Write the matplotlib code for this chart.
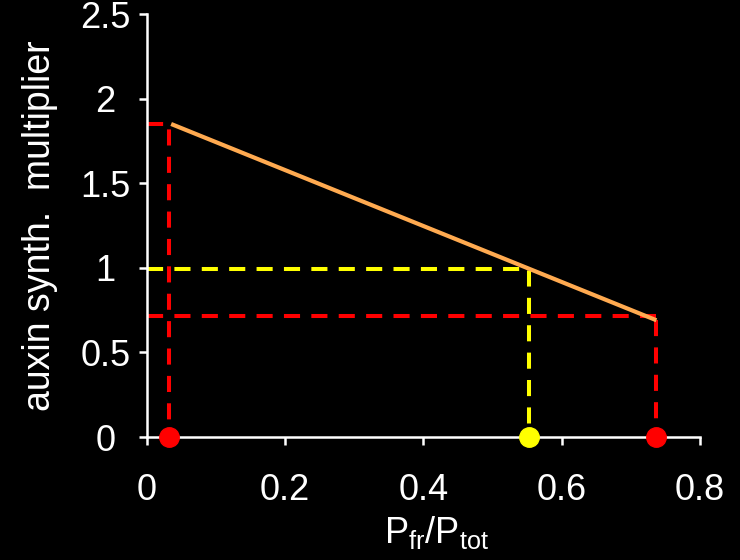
import matplotlib
matplotlib.use("Agg")
import matplotlib.pyplot as plt

plt.rcParams["font.family"] = ["Liberation Sans", "DejaVu Sans"]

# orange response line (Pfr/Ptot -> auxin synth. multiplier)
line_x = [0.035, 0.737]
line_y = [1.85, 0.69]

# dashed guide lines: (x path, y path)
red_low_x = [0.0, 0.032, 0.032]
red_low_y = [1.85, 1.85, 0.0]
red_high_x = [0.0, 0.737]
red_high_y = [0.715, 0.715]
red_high_drop_x = [0.737, 0.737]
red_high_drop_y = [0.69, 0.0]
yellow_x = [0.0, 0.553, 0.553]
yellow_y = [0.995, 0.995, 0.0]

# markers on the x-axis
red_pts_x = [0.032, 0.737]
yellow_pts_x = [0.553]

x_ticks = [0, 0.2, 0.4, 0.6, 0.8]
x_tick_labels = ["0", "0.2", "0.4", "0.6", "0.8"]
y_ticks = [0, 0.5, 1, 1.5, 2, 2.5]
y_tick_labels = ["0", "0.5", "1", "1.5", "2", "2.5"]

ORANGE = "#FFAA50"
RED = "#FF0000"
YELLOW = "#FFFF00"
DASH = (4.0, 2.8)

fig = plt.figure(figsize=(7.4, 5.6), dpi=100, facecolor="black")
ax = fig.add_axes([0.1986, 0.2196, 0.7473, 0.7554], facecolor="black")

ax.plot(red_low_x, red_low_y, color=RED, lw=2.9, dashes=DASH)
ax.plot(red_high_x, red_high_y, color=RED, lw=2.9, dashes=DASH)
ax.plot(red_high_drop_x, red_high_drop_y, color=RED, lw=2.9, dashes=DASH)
ax.plot(yellow_x, yellow_y, color=YELLOW, lw=2.9, dashes=DASH)
ax.plot(line_x, line_y, color=ORANGE, lw=3.0, solid_capstyle="butt")

ax.plot(red_pts_x, [0] * len(red_pts_x), "o", color=RED, ms=14,
        clip_on=False, zorder=5)
ax.plot(yellow_pts_x, [0] * len(yellow_pts_x), "o", color=YELLOW, ms=14,
        clip_on=False, zorder=5)

ax.set_xlim(0, 0.8)
ax.set_ylim(0, 2.5)
ax.set_xticks(x_ticks)
ax.set_xticklabels(x_tick_labels)
ax.set_yticks(y_ticks)
ax.set_yticklabels(y_tick_labels)

for side in ["top", "right"]:
    ax.spines[side].set_visible(False)
for side in ["left", "bottom"]:
    ax.spines[side].set_color("white")
    ax.spines[side].set_linewidth(1.8)

ax.tick_params(axis="both", colors="white", direction="out", length=6,
               width=1.8, labelsize=26)
ax.tick_params(axis="x", pad=20)
ax.tick_params(axis="y", pad=24)
plt.setp(ax.get_yticklabels(), ha="center")

ax.set_xlabel(r"$\mathregular{P_{fr}/P_{tot}}$", color="white", fontsize=26,
              labelpad=4, x=0.523)
ax.set_ylabel("auxin synth.  multiplier", color="white", fontsize=27,
              labelpad=16)

fig.savefig("out.png", dpi=100, facecolor="black")
